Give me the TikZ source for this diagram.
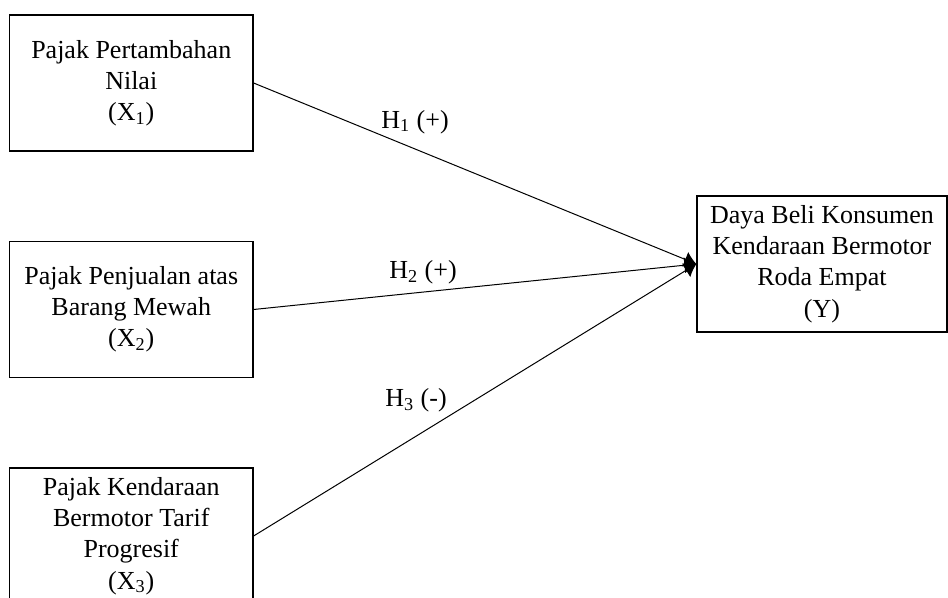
\documentclass[tikz,border=0pt]{standalone}
\usepackage{fontspec}
\setmainfont{Liberation Serif}
\usetikzlibrary{arrows.meta}

\begin{document}
\begin{tikzpicture}[x=0.5pt, y=-0.5pt,
    varbox/.style={draw, line width=0.6pt, align=center, minimum width=121.75pt,
      minimum height=68pt, inner sep=0pt, font=\fontsize{13}{15.6}\selectfont},
    hyp/.style={font=\fontsize{13}{15.6}\selectfont, inner sep=0pt},
    link/.style={line width=0.5pt, -{Latex[length=6pt, width=8pt]}}]
      \useasboundingbox (0,0) rectangle (948,598);

      \node[varbox] (x1) at (131.25, 83) {Pajak Pertambahan\\ Nilai\\ (X\textsubscript{1})};
      \node[varbox] (x2) at (131.25, 309.5) {Pajak Penjualan atas\\ Barang Mewah\\ (X\textsubscript{2})};
      \node[varbox] (x3) at (131.25, 536) {Pajak Kendaraan\\ Bermotor Tarif\\ Progresif\\ (X\textsubscript{3})};
      \node[varbox, minimum width=125pt] (y) at (822, 264) {Daya Beli Konsumen\\ Kendaraan Bermotor\\ Roda Empat\\ (Y)};

      \draw[link] (x1.east) -- (y.west);
      \draw[link] (x2.east) -- (y.west);
      \draw[link] (x3.east) -- (y.west);

      \node[hyp] (h1) at (415, 122) {H\textsubscript{1} (+)};
      \node[hyp] (h2) at (423, 272) {H\textsubscript{2} (+)};
      \node[hyp] (h3) at (416, 400) {H\textsubscript{3} (-)};
    \end{tikzpicture}
\end{document}
